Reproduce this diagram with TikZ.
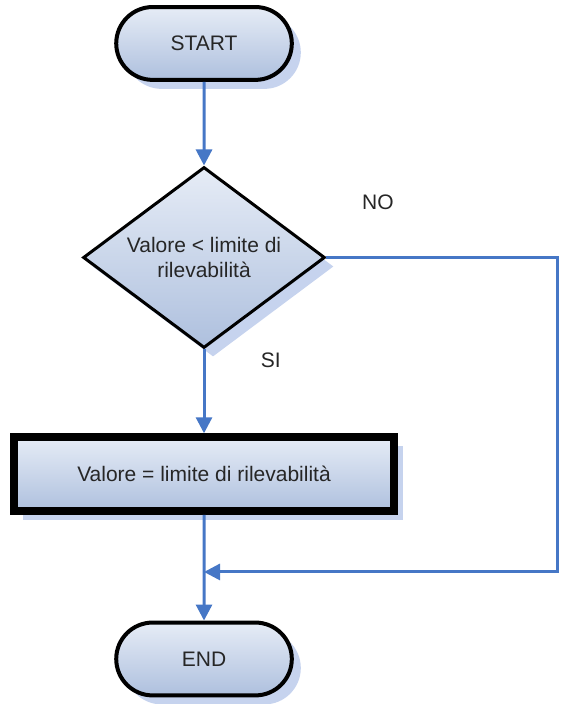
\documentclass[tikz,border=0pt]{standalone}
\usepackage{fontspec}
\setmainfont{Liberation Sans}
\usepackage{xcolor}
\usepackage{tikz}
\usetikzlibrary{shapes.geometric, shapes.misc, shadows, arrows.meta}

\definecolor{flowblue}{HTML}{4677C6}
\definecolor{filltop}{HTML}{E6ECF6}
\definecolor{fillbot}{HTML}{AEC0DE}
\definecolor{shadowblue}{HTML}{C6D3EE}

\tikzset{
        flowfill/.style={top color=filltop, bottom color=fillbot, text=black!85,
                font=\fontsize{10.5}{12.5}\selectfont,
                drop shadow={shadow xshift=4.5pt, shadow yshift=-4.5pt, fill=shadowblue, opacity=1}},
        terminal/.style={flowfill, rounded rectangle, draw=black, line width=2pt,
                minimum width=3.32cm, minimum height=1.28cm},
        decision/.style={flowfill, diamond, aspect=1.34, draw=black, line width=1.5pt,
                minimum width=4.25cm, minimum height=3.18cm, align=center, inner sep=0pt},
        process/.style={flowfill, rectangle, draw=black, line width=3.8pt,
                minimum width=6.68cm, minimum height=1.30cm},
        flow/.style={draw=flowblue, line width=1.5pt, -{Triangle[length=8pt, width=8pt]}},
        branchtext/.style={text=black!85, font=\fontsize{10.5}{12.5}\selectfont}
}

\begin{document}
\begin{tikzpicture}
        \useasboundingbox (0,0) rectangle (9.858,12.371);

        % Nodes
        \node[terminal] (start) at (3.585,11.607) {START};
        \node[decision] (check) at (3.585,7.846) {Valore < limite di\\rilevabilità};
        \node[process] (setval) at (3.585,4.04) {Valore = limite di rilevabilità};
        \node[terminal] (stop) at (3.585,0.791) {END};

        % Branch labels
        \node[branchtext] (no) at (6.64,8.81) {NO};
        \node[branchtext] (si) at (4.76,6.04) {SI};

        % Connectors
        \coordinate (corner) at (9.79,2.32);
        \coordinate (join) at (3.585,2.32);
        \draw[flow] (start) -- (check);
        \draw[flow] (check) -- (setval);
        \draw[flow] (setval) -- (stop);
        \draw[flow] (check.east) -| (corner) -- (join);
\end{tikzpicture}
\end{document}
